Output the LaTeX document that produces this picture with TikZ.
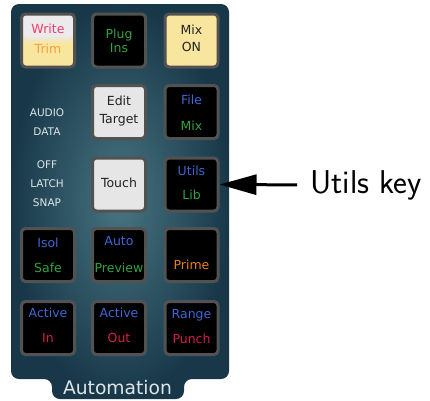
\documentclass[tikz,border=0pt]{standalone}
\usepackage{fontspec}
\setmainfont{DejaVu Sans}
\usetikzlibrary{arrows.meta,calc}
\definecolor{panelin}{RGB}{72,116,130}
\definecolor{panelout}{RGB}{24,56,73}
\definecolor{btnborder}{RGB}{82,82,82}
\definecolor{lightkey}{RGB}{230,230,230}
\definecolor{yellowkey}{RGB}{248,229,158}
\definecolor{writetop}{RGB}{236,234,234}
\definecolor{pinkc}{RGB}{232,62,112}
\definecolor{trimc}{RGB}{246,160,62}
\definecolor{bluec}{RGB}{62,102,212}
\definecolor{greenc}{RGB}{52,162,62}
\definecolor{redc}{RGB}{212,30,72}
\definecolor{primec}{RGB}{232,130,30}
\definecolor{darkc}{RGB}{34,34,34}
\definecolor{sidec}{RGB}{222,228,232}
\begin{document}
\begin{tikzpicture}[x=1pt,y=-1pt,
  btn/.style={draw=btnborder, line width=3pt, rounded corners=4pt,
    minimum size=53pt, inner sep=0pt, fill=black},
  lightbtn/.style={btn, fill=lightkey},
  yellowbtn/.style={btn, fill=yellowkey},
  keytext/.style={font=\fontsize{12.5}{15}\selectfont, inner sep=0pt, anchor=base},
  sidetext/.style={font=\fontsize{10.5}{12}\selectfont, text=sidec, inner sep=0pt, anchor=base},
]
\useasboundingbox (0,0) rectangle (430,400);
% panel
\shade[inner color=panelin, outer color=panelout, rounded corners=8pt]
  (11,200) -- (11,4) -- (229,4) -- (229,379) -- (184,379) -- (184,399)
  -- (52,399) -- (52,379) -- (11,379) -- cycle;
% buttons
\node[btn, fill=yellowkey, path picture={
    \fill[writetop] (path picture bounding box.north west) rectangle ([yshift=3pt]path picture bounding box.east);
    \foreach \i in {0,...,5}{
      \pgfmathsetmacro\mixv{100-\i*17}
      \fill[writetop!\mixv!yellowkey] ([yshift={3pt-\i*1pt}]path picture bounding box.west) rectangle ([yshift={2pt-\i*1pt}]path picture bounding box.east);
    }
  }] (write) at (48,40.5) {};
\node[btn] (plug) at (119,40.5) {};
\node[yellowbtn] (mix) at (191.5,40.5) {};
\node[lightbtn] (edit) at (119,112) {};
\node[btn] (file) at (191.5,112) {};
\node[lightbtn] (touch) at (119,184.5) {};
\node[btn] (utils) at (191.5,184.5) {};
\node[btn] (isol) at (48,255) {};
\node[btn] (auto) at (119,255) {};
\node[btn] (prime) at (191.5,255) {};
\node[btn] (actin) at (48,328) {};
\node[btn] (actout) at (119,328) {};
\node[btn] (range) at (191.5,328) {};
% key texts
\node[keytext, text=pinkc] (writeA) at ($(write.center)+(0,-7.5)$) {Write};
\node[keytext, text=trimc] (writeB) at ($(write.center)+(0,12.5)$) {Trim};
\node[keytext, text=greenc] (plugA) at ($(plug.center)+(0,-2.5)$) {Plug};
\node[keytext, text=greenc] (plugB) at ($(plug.center)+(0,11.5)$) {Ins};
\node[keytext, text=darkc] (mixA) at ($(mix.center)+(0,-6.5)$) {Mix};
\node[keytext, text=darkc] (mixB) at ($(mix.center)+(0,10.5)$) {ON};
\node[keytext, text=darkc] (editA) at ($(edit.center)+(0,-7)$) {Edit};
\node[keytext, text=darkc] (editB) at ($(edit.center)+(0,11)$) {Target};
\node[keytext, text=bluec] (fileA) at ($(file.center)+(0,-8)$) {File};
\node[keytext, text=greenc] (fileB) at ($(file.center)+(0,18)$) {Mix};
\node[keytext, text=darkc] (touchA) at ($(touch.center)+(0,2.5)$) {Touch};
\node[keytext, text=bluec] (utilsA) at ($(utils.center)+(0,-9.5)$) {Utils};
\node[keytext, text=greenc] (utilsB) at ($(utils.center)+(0,14.5)$) {Lib};
\node[keytext, text=bluec] (isolA) at ($(isol.center)+(0,-8)$) {Isol};
\node[keytext, text=greenc] (isolB) at ($(isol.center)+(0,17)$) {Safe};
\node[keytext, text=bluec] (autoA) at ($(auto.center)+(0,-10)$) {Auto};
\node[keytext, text=greenc] (autoB) at ($(auto.center)+(0,17)$) {Preview};
\node[keytext, text=primec] (primeA) at ($(prime.center)+(0,14)$) {Prime};
\node[keytext, text=bluec] (actinA) at ($(actin.center)+(0,-11)$) {Active};
\node[keytext, text=redc] (actinB) at ($(actin.center)+(0,14)$) {In};
\node[keytext, text=bluec] (actoutA) at ($(actout.center)+(0,-11)$) {Active};
\node[keytext, text=redc] (actoutB) at ($(actout.center)+(0,14)$) {Out};
\node[keytext, text=bluec] (rangeA) at ($(range.center)+(0,-10)$) {Range};
\node[keytext, text=redc] (rangeB) at ($(range.center)+(0,15)$) {Punch};
% side labels
\node[sidetext] (audio) at (47,116) {AUDIO};
\node[sidetext] (data) at (47,135) {DATA};
\node[sidetext] (off) at (47,168) {OFF};
\node[sidetext] (latch) at (47,187) {LATCH};
\node[sidetext] (snap) at (47,206) {SNAP};
% tab label
\node[font=\fontsize{18.7}{22}\selectfont, text=sidec, inner sep=0pt, anchor=base] (automation) at (117.5,394) {Automation};
% callout
\node[font=\sffamily\fontsize{33}{38}\selectfont, inner sep=0pt, anchor=base west] (keylabel) at (310,193) {Utils key};
\draw[line width=3pt, -{Triangle[length=37pt,width=20pt]}] ([xshift=-13pt]keylabel.west) -- (utils.east);
\end{tikzpicture}
\end{document}
